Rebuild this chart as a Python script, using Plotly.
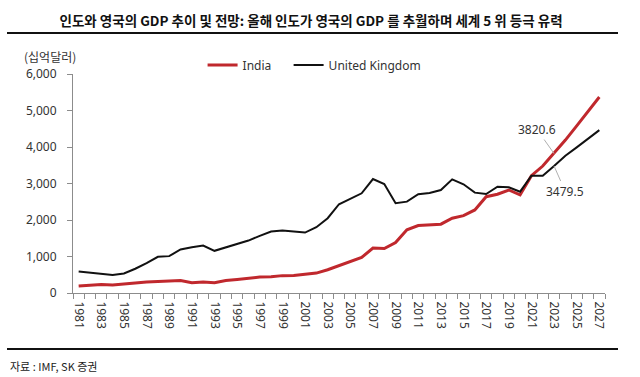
import plotly.graph_objects as go

years = list(range(1981, 2028))
india = [191, 208, 232, 218, 254, 273, 300, 318, 318, 345, 281, 300, 281, 345, 372, 409,
         437, 445, 476, 481, 508, 546, 637, 746, 863, 973, 1230, 1220, 1383, 1730, 1847, 1866,
         1885, 2049, 2120, 2276, 2639, 2705, 2822, 2686, 3213, 3478, 3820.6, 4189, 4580, 4990, 5371]
uk = [591, 563, 527, 491, 536, 664, 820, 992, 1010, 1192, 1256, 1301, 1156, 1247, 1355, 1437,
      1566, 1683, 1710, 1683, 1656, 1803, 2049, 2432, 2577, 2732, 3123, 2986, 2459, 2503, 2705, 2740,
      2822, 3114, 2978, 2749, 2713, 2913, 2896, 2776, 3213, 3213, 3479.5, 3760, 3989, 4216, 4462]
tick_years = list(range(1981, 2028, 2))
y_ticks = [0, 1000, 2000, 3000, 4000, 5000, 6000]

title_text = "인도와 영국의 GDP 추이 및 전망: 올해 인도가 영국의 GDP 를 추월하며 세계 5 위 등극 유력"
unit_text = "(십억달러)"
source_text = "자료 : IMF, SK 증권"
label_year = 2023

FONT = "Noto Sans, Noto Sans CJK KR, sans-serif"
KFONT = "Noto Sans CJK KR, sans-serif"
GRAY = "#8c8c8c"

fig = go.Figure()
# frame subplot whose mirrored x-axis lines give the two horizontal rules
fig.add_trace(go.Scatter(x=[], y=[], xaxis="x2", yaxis="y2", showlegend=False,
                         hoverinfo="skip"))
fig.add_trace(go.Scatter(x=years, y=india, mode="lines", name="India", legend="legend",
                         line=dict(color="#c0282d", width=3)))
fig.add_trace(go.Scatter(x=years, y=uk, mode="lines", name="United Kingdom", legend="legend2",
                         line=dict(color="#111111", width=2)))

i_idx = years.index(label_year)
fig.add_annotation(x=label_year, y=india[i_idx], text=f"{india[i_idx]:.1f}", showarrow=True,
                   arrowhead=0, arrowwidth=1, arrowcolor="#b0b0b0", ax=-17, ay=-24,
                   font=dict(size=12, color="#333", family=FONT))
fig.add_annotation(x=label_year, y=uk[i_idx], text=f"{uk[i_idx]:.1f}", showarrow=True,
                   arrowhead=0, arrowwidth=1, arrowcolor="#b0b0b0", ax=11, ay=25,
                   font=dict(size=12, color="#333", family=FONT))

fig.add_annotation(xref="paper", yref="paper", x=0.0241, y=0.9268, xanchor="left",
                   yanchor="middle", text=unit_text, showarrow=False,
                   font=dict(size=12, color="#333", family=KFONT))
fig.add_annotation(xref="paper", yref="paper", x=0.0016, y=-0.0573, xanchor="left",
                   yanchor="middle", text=source_text, showarrow=False,
                   font=dict(size=11, color="#222", family=KFONT))

fig.update_layout(
    width=640, height=377,
    margin=dict(l=7, r=22, t=34, b=29, autoexpand=False),
    paper_bgcolor="white", plot_bgcolor="rgba(0,0,0,0)",
    font=dict(family=FONT, size=12, color="#333"),
    title=dict(text=title_text, xref="container", yref="container", x=0.486, y=0.9424,
               xanchor="center", yanchor="middle",
               font=dict(family=KFONT, size=13.5, color="#111", weight="bold")),
    showlegend=True,
    legend=dict(orientation="h", x=0.3201, y=0.9013, xanchor="left", yanchor="middle",
                font=dict(size=12, color="#333", family=FONT), bgcolor="rgba(0,0,0,0)",
                itemwidth=30),
    legend2=dict(orientation="h", x=0.4609, y=0.9013, xanchor="left", yanchor="middle",
                 font=dict(size=12, color="#333", family=FONT), bgcolor="rgba(0,0,0,0)",
                 itemwidth=30),
    xaxis=dict(domain=[0.10802, 0.97872], range=[1980.5, 2027.5], tickmode="array",
               tickvals=tick_years, ticktext=[str(y) for y in tick_years], tickangle=90,
               ticks="outside", ticklen=5, tickcolor="rgba(0,0,0,0)",
               showline=True, linecolor=GRAY, linewidth=1, showgrid=False, zeroline=False,
               tickfont=dict(size=12, color="#333"),
               minor=dict(tick0=1980.5, dtick=1, ticks="outside", ticklen=5, tickcolor=GRAY,
                          showgrid=False)),
    yaxis=dict(domain=[0.17516, 0.87261], range=[0, 6000], tickmode="array", tickvals=y_ticks,
               tickformat=",", ticks="outside", ticklen=5, tickcolor=GRAY, showline=True,
               linecolor=GRAY, linewidth=1, showgrid=False, zeroline=False, ticklabelstandoff=8,
               tickfont=dict(size=12, color="#333")),
    xaxis2=dict(domain=[0, 1], anchor="y2", range=[0, 1], showline=True, mirror=True,
                linecolor="#111111", linewidth=2, showticklabels=False, ticks="",
                showgrid=False, zeroline=False, fixedrange=True),
    yaxis2=dict(domain=[0, 1], anchor="x2", range=[0, 1], showline=False,
                showticklabels=False, ticks="", showgrid=False, zeroline=False,
                fixedrange=True),
)

fig.write_html("out.html", config={"displayModeBar": False},
               post_script="document.body.style.margin='0';")
